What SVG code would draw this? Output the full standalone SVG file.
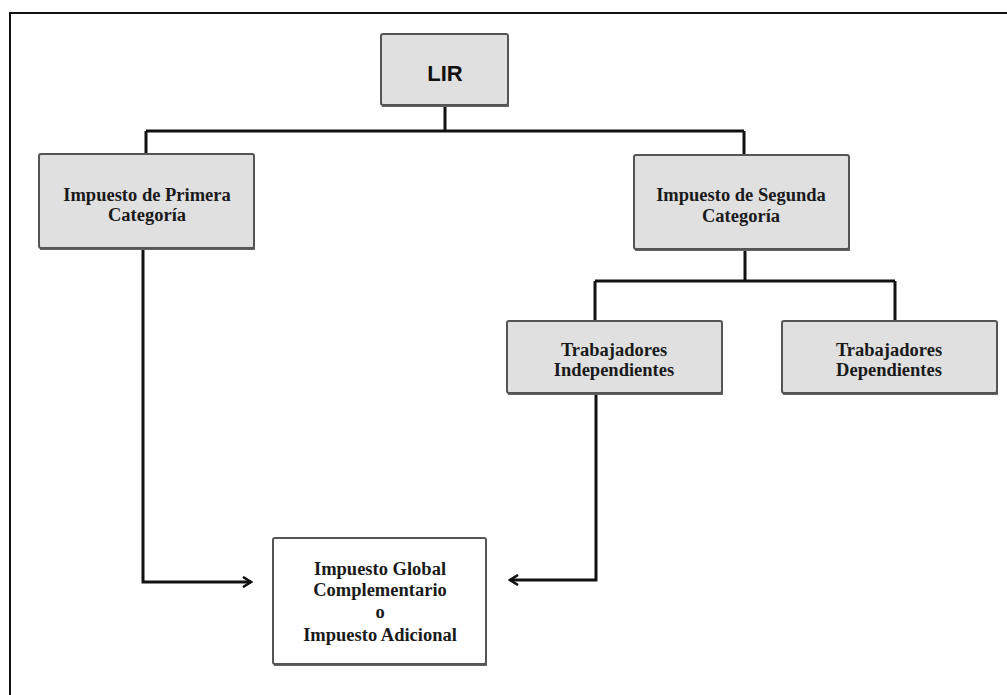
<svg xmlns="http://www.w3.org/2000/svg" width="1007" height="695" viewBox="0 0 1007 695">
<defs>
<style>
.box{fill:#e0e0e0;stroke:#555;stroke-width:2}
.wbox{fill:#fff;stroke:#555;stroke-width:2}
.sh{fill:#666}
.t{font-family:"Liberation Serif",serif;font-weight:bold;font-size:18.5px;fill:#1a1a1a;text-anchor:middle}
.lir{font-family:"Liberation Sans",sans-serif;font-weight:bold;font-size:22px;fill:#111;text-anchor:middle}
.c{fill:none;stroke:#111;stroke-width:3}
</style>
<marker id="ah" viewBox="0 0 12 12" refX="10" refY="6" markerWidth="12" markerHeight="12" markerUnits="userSpaceOnUse" orient="auto">
<path d="M2,1 L10,6 L2,11" fill="none" stroke="#111" stroke-width="2.6"/>
</marker>
</defs>
<rect x="0" y="0" width="1007" height="695" fill="#fff"/>
<rect x="10" y="13" width="1010" height="700" fill="none" stroke="#111" stroke-width="2"/>
<g id="connectors">
<path class="c" d="M445,105 V131 M146,131 H744 M146,131 V154 M744,131 V155"/>
<path class="c" d="M745,249 V281 M595,281 H895 M595,281 V321 M895,281 V321"/>
<path class="c" d="M143,248 V582 H251" marker-end="url(#ah)"/>
<path class="c" d="M596,393 V580 H510" marker-end="url(#ah)"/>
</g>
<g id="lir">
<rect class="sh" x="382" y="104" width="127" height="3"/>
<rect class="box" x="381" y="34" width="127" height="71" rx="2"/>
<text class="lir" x="445" y="81">LIR</text>
</g>
<g id="primera">
<rect class="sh" x="40" y="247" width="215" height="3"/>
<rect class="box" x="39" y="154" width="215" height="94" rx="2"/>
<text class="t" x="147" y="201">Impuesto de Primera</text>
<text class="t" x="147" y="221">Categoría</text>
</g>
<g id="segunda">
<rect class="sh" x="635" y="248" width="215" height="3"/>
<rect class="box" x="634" y="155" width="215" height="94" rx="2"/>
<text class="t" x="741" y="201">Impuesto de Segunda</text>
<text class="t" x="741" y="222">Categoría</text>
</g>
<g id="independientes">
<rect class="sh" x="508" y="392" width="215" height="3"/>
<rect class="box" x="507" y="321" width="215" height="72" rx="2"/>
<text class="t" x="614" y="356">Trabajadores</text>
<text class="t" x="614" y="376">Independientes</text>
</g>
<g id="dependientes">
<rect class="sh" x="783" y="392" width="215" height="3"/>
<rect class="box" x="782" y="321" width="215" height="72" rx="2"/>
<text class="t" x="889" y="356">Trabajadores</text>
<text class="t" x="889" y="376">Dependientes</text>
</g>
<g id="global">
<rect class="sh" x="274" y="663" width="213" height="3"/>
<rect class="wbox" x="273" y="538" width="213" height="126" rx="2"/>
<text class="t" x="380" y="575">Impuesto Global</text>
<text class="t" x="380" y="596">Complementario</text>
<text class="t" x="380" y="618">o</text>
<text class="t" x="380" y="641">Impuesto Adicional</text>
</g>
</svg>
